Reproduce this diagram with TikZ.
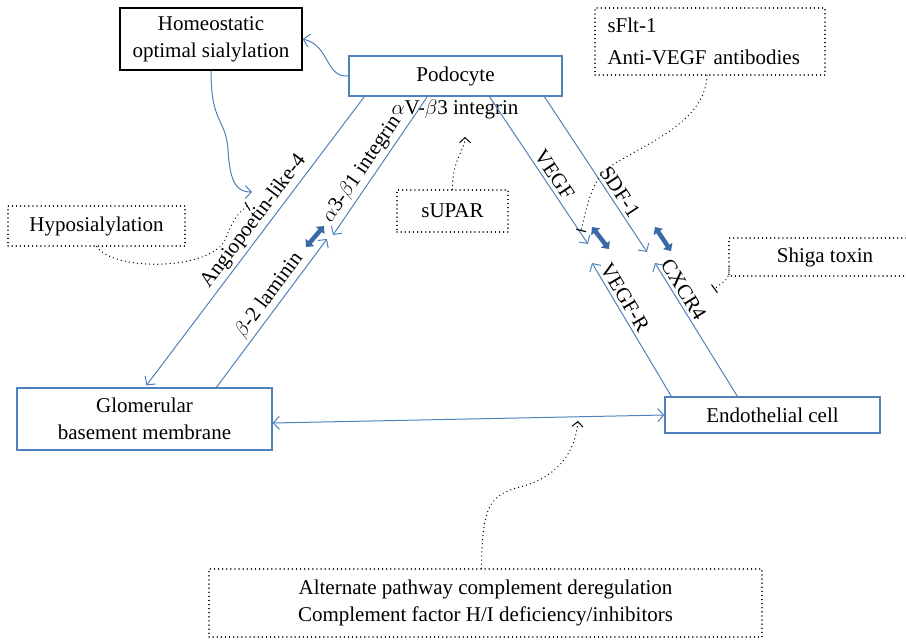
\documentclass[tikz,border=0pt]{standalone}
\usepackage{fontspec}
\setmainfont{Liberation Serif}
\usetikzlibrary{arrows.meta}
\definecolor{cellblue}{HTML}{4F81BD}
\definecolor{bindblue}{HTML}{3A69A5}
\tikzset{
  cellbox/.style={draw=cellblue, line width=1.2pt, align=center, inner sep=0pt},
  blackbox/.style={draw=black, line width=1.2pt, align=center, inner sep=0pt},
  dotbox/.style={draw=black, line width=1.3pt, dash pattern=on 0.1pt off 4pt, line cap=round, align=center, inner sep=0pt},
  link/.style={cellblue, line width=1pt},
  hint/.style={black, line width=1.3pt, dash pattern=on 0.1pt off 4pt, line cap=round},
  tip/.style={-{Straight Barb[length=6pt,width=13pt]}},
  blocktip/.style={-{Bar[width=10pt,line width=1.1pt]}},
  hinttip/.style={-{Straight Barb[length=5pt,width=11pt,line width=1pt]}},
  bind/.style={bindblue, line width=4.5pt, {Triangle[length=6pt,width=11pt]}-{Triangle[length=6pt,width=11pt]}},
  lbl/.style={sloped, above, inner sep=3pt, text=black}
}
\begin{document}
\begin{tikzpicture}[x=1pt, y=1pt, font=\fontsize{21}{27}\selectfont]
  \useasboundingbox (0,0) rectangle (906,-641);

  % cells
  \node[cellbox, minimum width=213pt, minimum height=40pt] (podo) at (455.5,-76) {Podocyte};
  \node[cellbox, minimum width=255pt, minimum height=62pt] (gbm) at (144.5,-419) {Glomerular\\basement membrane};
  \node[cellbox, minimum width=215pt, minimum height=36pt] (endo) at (772.5,-415) {Endothelial cell};
  \node[blackbox, minimum width=182pt, minimum height=62pt] (homeo) at (211,-39) {Homeostatic\\optimal sialylation};

  % factors
  \node[dotbox, minimum width=177pt, minimum height=40pt] (hypo) at (96.5,-226) {Hyposialylation};
  \node[dotbox, minimum width=111pt, minimum height=42pt] (supar) at (452.5,-211) {sUPAR};
  \node[dotbox, minimum width=230pt, minimum height=67pt, text width=205pt, align=left] (sflt) at (710,-41.5) {sFlt-1\\[5pt]Anti-VEGF antibodies};
  \node[dotbox, minimum width=553pt, minimum height=68pt] (compl) at (485.5,-603) {Alternate pathway complement deregulation\\Complement factor H/I deficiency/inhibitors};
  \node (shiga) at (825,-257) {Shiga toxin};
  \draw[hint] (906,-238) -- (729,-238) -- (729,-276) -- (906,-276);
  \node (avb3) at (455,-110) {$\alpha$V-$\beta$3 integrin};

  % free ends
  \coordinate (a3end) at (333,-235);
  \coordinate (b2end) at (327,-239);
  \coordinate (vegfend) at (588,-244);
  \coordinate (sdfend) at (647,-252);
  \coordinate (vrend) at (592,-263);
  \coordinate (cxend) at (655,-263);
  \coordinate (angtee) at (248,-206);
  \coordinate (vegftee) at (581,-231);
  \coordinate (cxtee) at (714,-289);
  \coordinate (shigaleg) at (729,-268);
  \coordinate (eqmark) at (578,-421);
  \coordinate (sialend) at (252,-192);

  % signalling lines
  \draw[link, tip] ([xshift=16pt]podo.south west) -- node[lbl, pos=0.46] {Angiopoetin-like-4} ([xshift=130pt,yshift=2pt]gbm.north west);
  \draw[link, tip] ([xshift=79pt]podo.south west) -- node[lbl, pos=0.58] {$\alpha$3-$\beta$1 integrin} (a3end);
  \draw[link, tip] ([xshift=200pt]gbm.north west) -- node[lbl, pos=0.57] {$\beta$-2 laminin} (b2end);
  \draw[link, tip] ([xshift=141pt]podo.south west) -- node[lbl, pos=0.57] {VEGF} (vegfend);
  \draw[link, tip] ([xshift=196pt]podo.south west) -- node[lbl, pos=0.65] {SDF-1} (sdfend);
  \draw[link, tip] ([xshift=7pt]endo.north west) -- node[lbl, pos=0.70] {VEGF-R} (vrend);
  \draw[link, tip] ([xshift=73pt]endo.north west) -- node[lbl, pos=0.76] {CXCR4} (cxend);
  \draw[link, {Straight Barb[length=6pt,width=13pt]}-{Straight Barb[length=6pt,width=13pt]}] ([yshift=-4pt]gbm.east) -- (endo.west);
  \draw[link, tip] (podo.west) .. controls (325,-78) and (330,-45) .. (homeo.east);
  \draw[link, tip] (homeo.south) .. controls (211,-125) and (226,-118) .. (228,-150)
    .. controls (230,-185) and (238,-192) .. (sialend);

  % binding
  \draw[bind] (306,-247) -- (324,-226);
  \draw[bind] (592,-227) -- (609,-249);
  \draw[bind] (655,-227) -- (671,-251);

  % inhibitors and triggers
  \draw[hint, blocktip] (hypo.south) .. controls (115,-272) and (210,-270) .. (225,-240)
    .. controls (232,-222) and (238,-212) .. (angtee);
  \draw[hint, blocktip] ([xshift=-3pt]sflt.south) .. controls (705,-125) and (640,-145) .. (605,-170)
    .. controls (590,-185) and (585,-215) .. (vegftee);
  \draw[hint, blocktip] (shigaleg) .. controls (729,-278) .. (cxtee);
  \draw[hint, hinttip] (supar.north) .. controls (452,-160) and (465,-150) .. ([yshift=-14pt]avb3.south -| 465,0);
  \draw[hint, hinttip] ([xshift=-4pt]compl.north) .. controls (482,-505) and (490,-495) .. (520,-487)
    .. controls (555,-478) and (575,-455) .. (eqmark);
\end{tikzpicture}
\end{document}
